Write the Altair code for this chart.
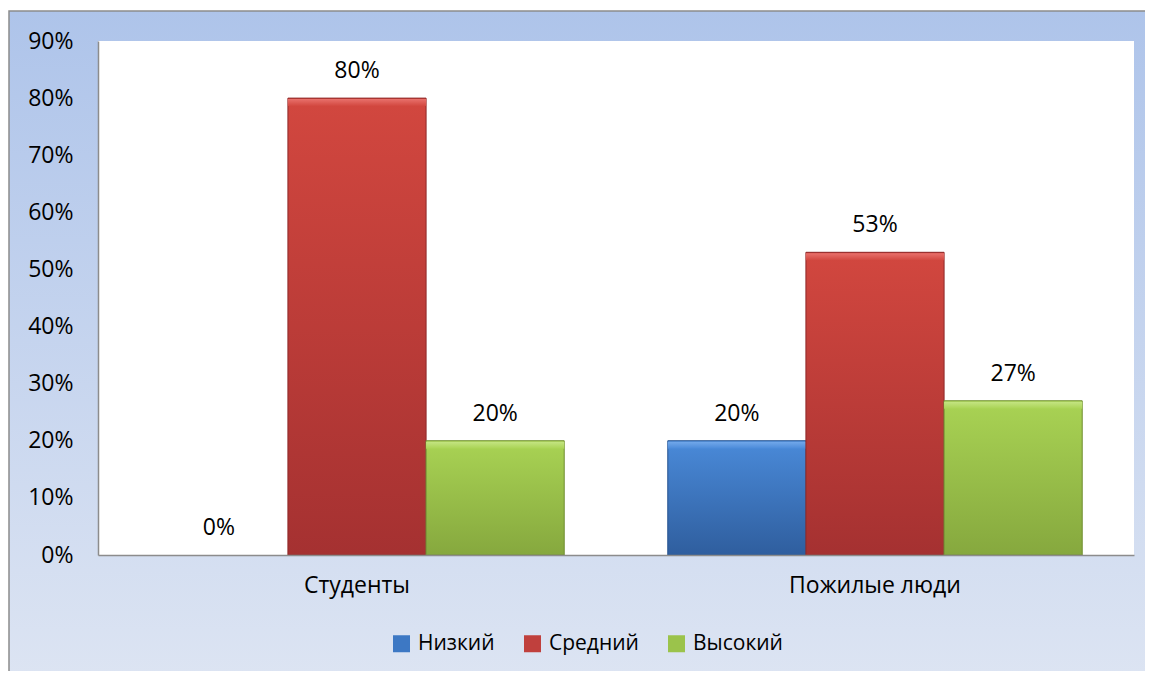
import altair as alt
import pandas as pd

categories = ["Студенты", "Пожилые люди"]
series = ["Низкий", "Средний", "Высокий"]
values_students = [0.0, 0.80, 0.20]
values_elderly = [0.20, 0.53, 0.27]
y_ticks = [0.0, 0.1, 0.2, 0.3, 0.4, 0.5, 0.6, 0.7, 0.8, 0.9]

solid = ["#3D78C4", "#C0403D", "#9BC34B"]
lights = ["#72A8EA", "#E8706B", "#C4E482"]
tops = ["#4A8AD9", "#D2473F", "#A9D354"]
bottoms = ["#2F5E9E", "#A53131", "#86A83E"]
edges = ["#2B5690", "#8E2A2A", "#728F35"]

rows = []
for s, v in zip(series, values_students):
    rows.append({"category": categories[0], "series": s, "value": v})
for s, v in zip(series, values_elderly):
    rows.append({"category": categories[1], "series": s, "value": v})
df = pd.DataFrame(rows)

W, H = 1036, 514
FONT = "Open Sans"
FS = 23
LFS = 21

x_enc = alt.X("category:N", sort=categories, title=None,
              scale=alt.Scale(paddingInner=0.2, paddingOuter=0.1),
              axis=alt.Axis(labelAngle=0, ticks=False, labelPadding=19,
                            domainColor="#8C8C8C", domainWidth=1.5, zindex=1,
                            labelFont=FONT, labelFontSize=FS, labelColor="#000000"))
xo_enc = alt.XOffset("series:N", sort=series,
                     scale=alt.Scale(paddingInner=0, paddingOuter=0))
y_enc = alt.Y("value:Q", title=None,
              scale=alt.Scale(domain=[0, 0.9], nice=False),
              axis=alt.Axis(format=".0%", values=y_ticks, ticks=False, grid=False,
                            labelPadding=25, domainColor="#8C8C8C", domainWidth=1.5,
                            zindex=1, labelFont=FONT, labelFontSize=FS,
                            labelColor="#000000"))

one = pd.DataFrame({"a": [0]})
bg = alt.Chart(one).mark_rect(
    color=alt.Gradient(gradient="linear",
                       stops=[alt.GradientStop(color="#AEC4EA", offset=0),
                              alt.GradientStop(color="#DFE6F3", offset=1)],
                       x1=0, x2=0, y1=0, y2=1),
    stroke="#8C8C8C", strokeWidth=1.5,
).encode(x=alt.value(-89), x2=alt.value(W + 60), y=alt.value(-30), y2=alt.value(H + 160))

plot_bg = alt.Chart(one).mark_rect(color="white").encode(
    x=alt.value(0), x2=alt.value(W), y=alt.value(0), y2=alt.value(H))

base = alt.Chart(df).mark_bar().encode(
    x=x_enc, xOffset=xo_enc, y=y_enc,
    color=alt.Color("series:N", sort=series, title=None,
                    scale=alt.Scale(domain=series, range=solid),
                    legend=alt.Legend(orient="none", legendX=293, legendY=592,
                                      direction="horizontal", symbolType="square",
                                      symbolSize=289, symbolStrokeWidth=0,
                                      labelFont=FONT, labelFontSize=LFS,
                                      labelColor="#000000", labelOffset=6,
                                      columnPadding=27)),
)

overlays = []
for i, s in enumerate(series):
    g = alt.Gradient(gradient="linear",
                     stops=[alt.GradientStop(color=tops[i], offset=0),
                            alt.GradientStop(color=bottoms[i], offset=1)],
                     x1=0, x2=0, y1=0, y2=1)
    overlays.append(
        alt.Chart(df).transform_filter((alt.datum.series == s) & (alt.datum.value > 0))
        .mark_bar(color=g, stroke=edges[i], strokeWidth=1)
        .encode(x=x_enc, xOffset=xo_enc, y=y_enc)
    )
    hg = alt.Gradient(gradient="linear",
                      stops=[alt.GradientStop(color=lights[i], offset=0),
                             alt.GradientStop(color=tops[i], offset=1)],
                      x1=0, x2=0, y1=0, y2=1)
    overlays.append(
        alt.Chart(df).transform_filter((alt.datum.series == s) & (alt.datum.value > 0))
        .mark_bar(color=hg, y2Offset=8, xOffset=1, x2Offset=-1, yOffset=1)
        .encode(x=x_enc, xOffset=xo_enc, y=y_enc, y2=alt.Y2("value:Q"))
    )

labels = alt.Chart(df).mark_text(dy=-27, font=FONT, fontSize=FS, color="#000000",
                                 baseline="middle").encode(
    x=x_enc, xOffset=xo_enc, y=y_enc,
    text=alt.Text("value:Q", format=".0%"))

chart = alt.layer(bg, plot_bg, base, *overlays, labels).properties(
    width=W, height=H,
    autosize=alt.AutoSizeParams(type="none"),
    padding={"left": 90, "top": 33, "right": 11, "bottom": 116},
    background="white",
).configure_view(stroke=None)

chart.save("out.html", embed_options={"renderer": "svg", "actions": False})
